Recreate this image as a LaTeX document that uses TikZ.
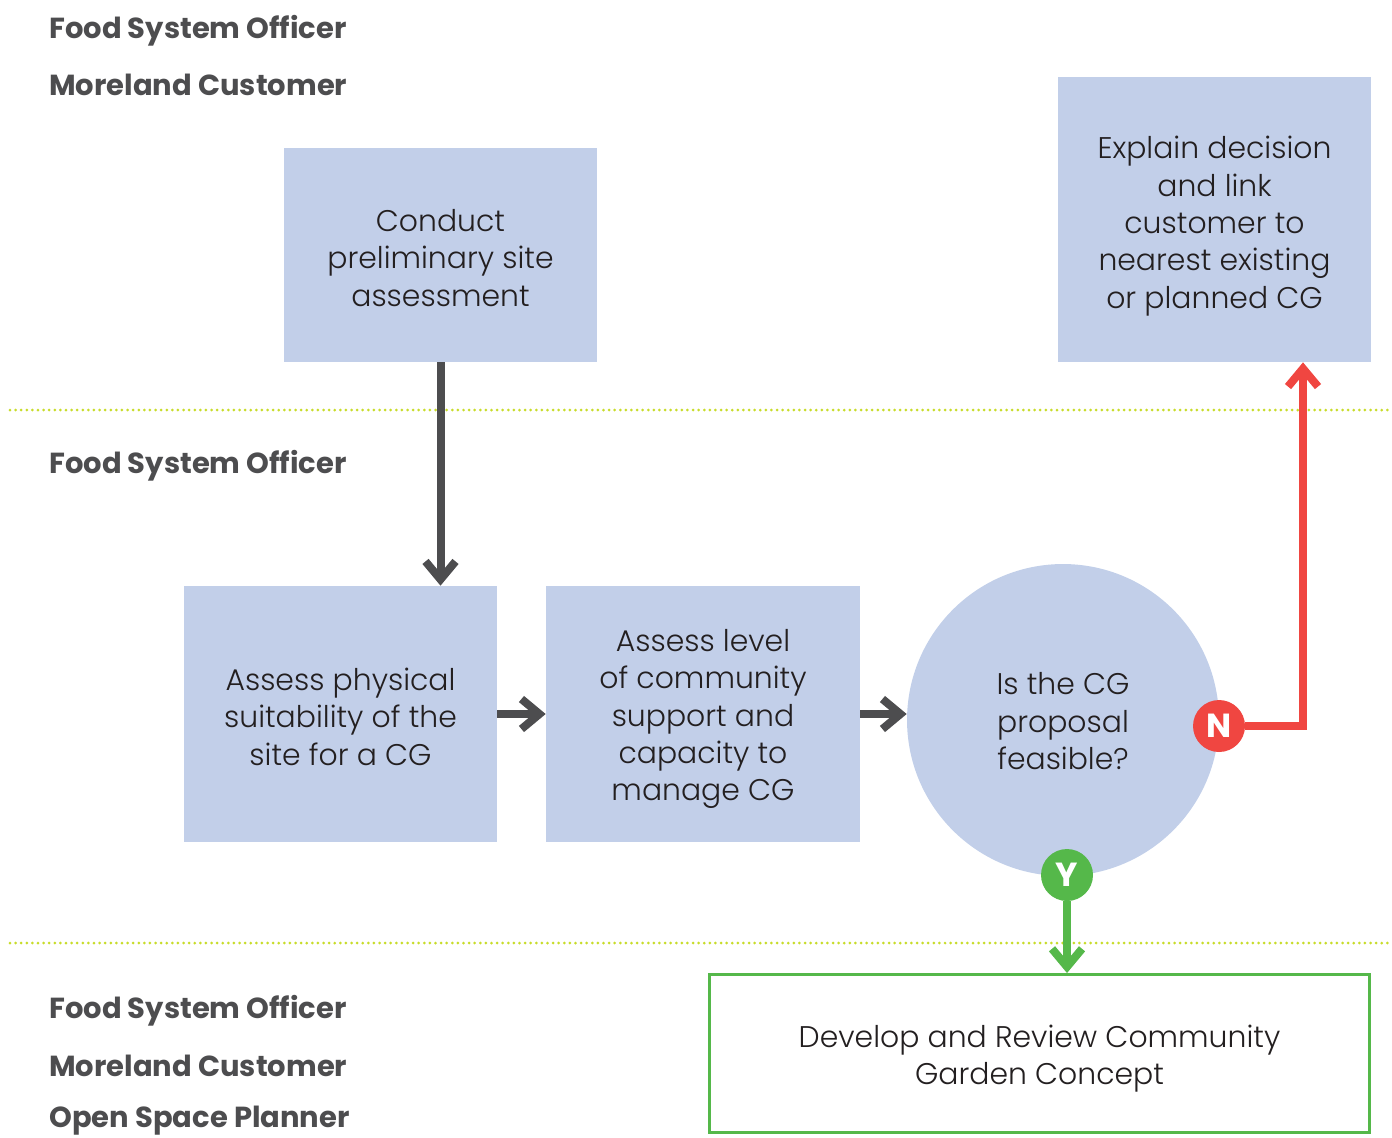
\documentclass[tikz,border=0pt]{standalone}
\usepackage{fontspec}
\setmainfont{Poppins Light}[BoldFont={Poppins Bold}]
\usetikzlibrary{arrows.meta}
\definecolor{boxblue}{HTML}{C2CFE9}
\definecolor{flowgrey}{HTML}{4D4D4F}
\definecolor{flowred}{HTML}{F04641}
\definecolor{flowgreen}{HTML}{55B84A}
\definecolor{lanelime}{HTML}{C8DC2A}
\definecolor{textink}{HTML}{231F20}
\newcommand{\boxtext}[2]{\raisebox{-#1}[0pt][0pt]{\begin{tabular}{@{}c@{}}#2\end{tabular}}}
\tikzset{
    stepbox/.style={fill=boxblue, text=textink, align=center, inner sep=0pt,
        font=\fontsize{17}{21.25}\selectfont, minimum width=6.26cm},
    decision/.style={stepbox, circle, minimum width=6.24cm},
    role/.style={anchor=base west, inner sep=0pt, text=flowgrey,
        font=\fontsize{16.5}{20}\selectfont\bfseries},
    badge/.style={circle, text=white, inner sep=0pt, minimum width=1.04cm,
        font=\fontsize{19}{20}\selectfont\bfseries},
    flow/.style={line width=0.16cm, -{Straight Barb[length=0.36cm, width=0.6cm, line width=0.16cm]}},
    lane/.style={lanelime, line width=0.06cm, line cap=round, dash pattern=on 0pt off 0.112cm}
}
\begin{document}
\begin{tikzpicture}[x=0.02cm, y=-0.02cm]
    \useasboundingbox (0,0) rectangle (1392,1137);

    \coordinate (laneAleft) at (10,410);
    \coordinate (laneAright) at (1388,410);
    \coordinate (laneBleft) at (10,943);
    \coordinate (laneBright) at (1388,943);
    \draw[lane] (laneAleft) -- (laneAright);
    \draw[lane] (laneBleft) -- (laneBright);

    \node[role] (roleA) at (49,38) {Food System Officer};
    \node[role] (roleB) at (49,95) {Moreland Customer};
    \node[role] (roleC) at (49,473) {Food System Officer};
    \node[role] (roleD) at (49,1018) {Food System Officer};
    \node[role] (roleE) at (49,1076) {Moreland Customer};
    \node[role] (roleF) at (49,1127) {Open Space Planner};

    \node[stepbox, minimum height=4.28cm] (conduct) at (440.5,255)
        {\boxtext{8pt}{Conduct\\preliminary site\\assessment}};
    \node[stepbox, minimum height=5.7cm] (explain) at (1214.5,219.5)
        {\boxtext{8pt}{Explain decision\\and link\\customer to\\nearest existing\\or planned CG}};
    \node[stepbox, minimum height=5.12cm] (physical) at (340.5,714)
        {\boxtext{8pt}{Assess physical\\suitability of the\\site for a CG}};
    \node[stepbox, minimum width=6.28cm, minimum height=5.12cm] (level) at (703,714)
        {\boxtext{7pt}{Assess level\\of community\\support and\\capacity to\\manage CG}};
    \node[decision] (feasible) at (1063,720) {\boxtext{7pt}{Is the CG\\proposal\\feasible?}};
    \node[draw=flowgreen, line width=0.06cm, fill=white, text=textink, align=center,
        inner sep=0pt, minimum width=13.2cm, minimum height=3.16cm,
        font=\fontsize{17}{21.25}\selectfont] (concept) at (1039.5,1053.5)
        {\boxtext{7pt}{Develop and Review Community\\Garden Concept}};

    \draw[flow, flowgrey] (conduct.south) -- (conduct.south |- physical.north);
    \draw[flow, flowgrey] (physical.east) -- (level.west);
    \draw[flow, flowgrey] (level.east) -- (level.east -| feasible.west);

    \node[badge, fill=flowred] (no) at (1219,726) {N};
    \node[badge, fill=flowgreen] (yes) at (1067,875) {Y};
    \coordinate (bend) at (1303,726);

    \draw[flow, flowred] (no.east) -- (bend) -- (bend |- explain.south);
    \draw[flow, flowgreen] (yes.south) -- (yes.south |- concept.north);
\end{tikzpicture}
\end{document}
